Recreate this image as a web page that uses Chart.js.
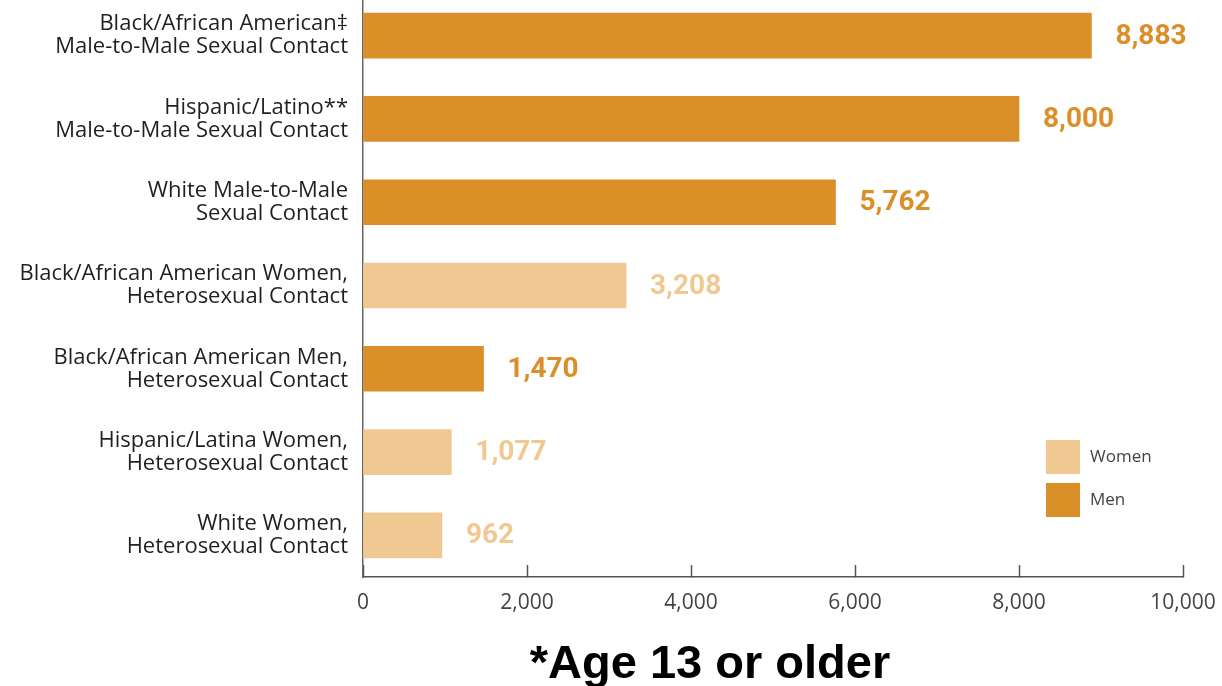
<!DOCTYPE html>
<html>
<head>
<meta charset="utf-8">
<script src="https://cdn.jsdelivr.net/npm/chart.js@4"></script>
<style>
    html, body { margin: 0; padding: 0; background: #fff; overflow: hidden; }
    #wrap { position: absolute; left: 0; top: -6px; width: 1222px; height: 692px; }
</style>
</head>
<body>
<div id="wrap"><canvas id="chart"></canvas></div>
<script>
const categories = [
    ['Black/African American\u2021', 'Male-to-Male Sexual Contact'],
    ['Hispanic/Latino**', 'Male-to-Male Sexual Contact'],
    ['White Male-to-Male', 'Sexual Contact'],
    ['Black/African American Women,', 'Heterosexual Contact'],
    ['Black/African American Men,', 'Heterosexual Contact'],
    ['Hispanic/Latina Women,', 'Heterosexual Contact'],
    ['White Women,', 'Heterosexual Contact']
];
const menValues = [8883, 8000, 5762, null, 1470, null, null];
const womenValues = [null, null, null, 3208, null, 1077, 962];
const xTicks = [0, 2000, 4000, 6000, 8000, 10000];
const footnote = '*Age 13 or older';

const menColor = '#db8f28';
const womenColor = '#f0c892';

// value printed just right of each bar
const valueLabels = {
    id: 'valueLabels',
    afterDatasetsDraw(chart) {
        const ctx = chart.ctx;
        ctx.save();
        ctx.font = 'bold 28px Roboto';
        ctx.textAlign = 'left';
        ctx.textBaseline = 'middle';
        chart.data.datasets.forEach((ds, i) => {
            const meta = chart.getDatasetMeta(i);
            meta.data.forEach((bar, j) => {
                const v = ds.data[j];
                if (v === null) return;
                ctx.fillStyle = ds.backgroundColor;
                ctx.fillText(v.toLocaleString('en-US'), bar.x + 24, bar.y + 1);
            });
        });
        ctx.restore();
    }
};

// square-swatch legend inside the plot, bottom right
const boxLegend = {
    id: 'boxLegend',
    afterDraw(chart) {
        const ctx = chart.ctx;
        const area = chart.chartArea;
        const x = area.right - 137;
        let y = area.bottom - 137;
        ctx.save();
        ctx.font = '17px "Open Sans"';
        ctx.textBaseline = 'middle';
        chart.data.datasets.forEach(ds => {
            ctx.fillStyle = ds.backgroundColor;
            ctx.fillRect(x, y, 34, 34);
            ctx.fillStyle = '#444';
            ctx.fillText(ds.label, x + 44, y + 17);
            y += 43;
        });
        ctx.restore();
    }
};

const footnoteText = {
    id: 'footnoteText',
    afterDraw(chart) {
        const ctx = chart.ctx;
        ctx.save();
        ctx.font = 'bold 47px "Liberation Sans"';
        ctx.fillStyle = '#000';
        ctx.textAlign = 'center';
        ctx.textBaseline = 'alphabetic';
        ctx.fillText(footnote, 710, 684);
        ctx.restore();
    }
};

new Chart(document.getElementById('chart'), {
    type: 'bar',
    data: {
        labels: categories,
        datasets: [
            {
                label: 'Women',
                data: womenValues,
                backgroundColor: womenColor,
                grouped: false,
                barThickness: 45
            },
            {
                label: 'Men',
                data: menValues,
                backgroundColor: menColor,
                grouped: false,
                barThickness: 45
            }
        ]
    },
    options: {
        indexAxis: 'y',
        responsive: true,
        maintainAspectRatio: false,
        animation: false,
        layout: { padding: { top: 0, right: 39, bottom: 0, left: 0 } },
        plugins: {
            legend: { display: false },
            tooltip: { enabled: false }
        },
        scales: {
            x: {
                min: 0,
                max: 10000,
                afterBuildTicks: scale => {
                    scale.ticks = xTicks.map(v => ({ value: v }));
                },
                afterFit: scale => {
                    scale.height = 109;
                    scale.paddingLeft = 0;
                    scale.paddingRight = 0;
                },
                ticks: {
                    color: '#444',
                    font: { family: 'Open Sans', size: 21 },
                    padding: 25,
                    maxRotation: 0,
                    callback: v => v.toLocaleString('en-US')
                },
                grid: {
                    drawOnChartArea: false,
                    drawTicks: true,
                    tickLength: -12,
                    tickColor: '#555',
                    tickWidth: 1.5
                },
                border: { color: '#555', width: 1.5 }
            },
            y: {
                afterFit: scale => {
                    scale.width = 363;
                    scale.paddingTop = 0;
                    scale.paddingBottom = 0;
                },
                ticks: {
                    color: '#231f20',
                    font: { family: 'Open Sans', size: 22, lineHeight: 1.05 },
                    padding: 15
                },
                grid: { drawOnChartArea: false, drawTicks: false },
                border: { color: '#666', width: 1.5 }
            }
        }
    },
    plugins: [valueLabels, boxLegend, footnoteText]
});
</script>
</body>
</html>
